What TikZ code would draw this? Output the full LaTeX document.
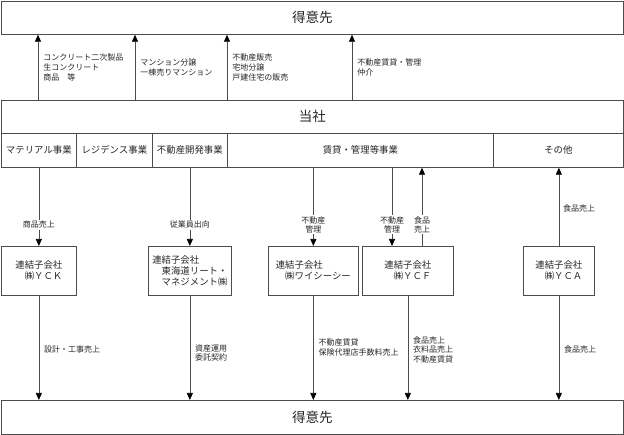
\documentclass[tikz,border=0pt]{standalone}
\usepackage{fontspec}
\newfontfamily\jp{Noto Sans CJK JP}
\usetikzlibrary{arrows.meta,calc}
\begin{document}
\begin{tikzpicture}[x=1pt,y=-1pt,
  box/.style={draw=black!70, line width=0.7pt, rectangle, inner sep=0pt, anchor=north west, font=\jp\fontsize{9.4}{11}\selectfont, align=left, text=black!85},
  bigbox/.style={box, font=\jp\fontsize{13.5}{15}\selectfont},
  arr/.style={draw=black!70, line width=0.7pt, -{Triangle[width=6pt,length=7pt,color=black]}},
  lbl/.style={font=\jp\fontsize{8}{9.8}\selectfont, text=black!85, inner sep=0pt, align=left, anchor=west, xshift=5pt},
  midlbl/.style={font=\jp\fontsize{8}{9.4}\selectfont, text=black!85, fill=white, inner sep=1pt, align=center}]
\useasboundingbox (0,0) rectangle (624,435);
% top and bottom customers
\node[bigbox, minimum width=622pt, minimum height=33pt] (top) at (1,1) {得意先};
\node[bigbox, minimum width=622pt, minimum height=34pt] (bottom) at (1,400) {得意先};
% company
\node[bigbox, minimum width=622pt, minimum height=33pt] (company) at (1,100) {当社};
% segments
\node[box, minimum width=75pt, minimum height=34pt] (seg1) at (1,133) {マテリアル事業};
\node[box, minimum width=76pt, minimum height=34pt] (seg2) at (76,133) {レジデンス事業};
\node[box, minimum width=75pt, minimum height=34pt] (seg3) at (152,133) {不動産開発事業};
\node[box, minimum width=266pt, minimum height=34pt] (seg4) at (227,133) {賃貸・管理等事業};
\node[box, minimum width=130pt, minimum height=34pt] (seg5) at (493,133) {その他};
% subsidiaries
\node[box, minimum width=75pt, minimum height=49pt] (yck) at (1,246) {連結子会社\\\hspace*{1em}㈱ＹＣＫ};
\node[box, minimum width=83pt, minimum height=49pt] (tokai) at (148,246) {連結子会社\\\hspace*{1em}東海道リート・\\\hspace*{1em}マネジメント㈱};
\node[box, minimum width=90pt, minimum height=49pt] (ycc) at (268,246) {連結子会社\\\hspace*{1em}㈱ワイシーシー};
\node[box, minimum width=91pt, minimum height=49pt] (ycf) at (362,246) {連結子会社\\\hspace*{1em}㈱ＹＣＦ};
\node[box, minimum width=71pt, minimum height=49pt] (yca) at (523,246) {連結子会社\\\hspace*{1em}㈱ＹＣＡ};
% helper x positions
\coordinate (t1) at (38,0);
\coordinate (t2) at (135,0);
\coordinate (t3) at (227,0);
\coordinate (t4) at (352,0);
\coordinate (m1) at (392,0);
\coordinate (m2) at (422,0);
% company -> top customers
\draw[arr] (company.north -| t1) -- node[lbl, pos=0.5] {コンクリート二次製品\\生コンクリート\\商品\hspace{1em}等} (top.south -| t1);
\draw[arr] (company.north -| t2) -- node[lbl, pos=0.5] {マンション分譲\\一棟売りマンション} (top.south -| t2);
\draw[arr] (company.north -| t3) -- node[lbl, pos=0.5] {不動産販売\\宅地分譲\\戸建住宅の販売} (top.south -| t3);
\draw[arr] (company.north -| t4) -- node[lbl, pos=0.5] {不動産賃貸・管理\\仲介} (top.south -| t4);
% segments -> subsidiaries
\draw[arr] (yck.north |- seg1.south) -- node[midlbl, pos=0.73] {商品売上} (yck.north);
\draw[arr] (tokai.north |- seg3.south) -- node[midlbl, pos=0.73] {従業員出向} (tokai.north);
\draw[arr] (ycc.north |- seg4.south) -- node[midlbl, pos=0.73] {不動産\\管理} (ycc.north);
\draw[arr] (m1 |- seg4.south) -- node[midlbl, pos=0.73] {不動産\\管理} (m1 |- ycf.north);
\draw[arr] (m2 |- ycf.north) -- node[midlbl, pos=0.27] {食品\\売上} (m2 |- seg4.south);
\draw[arr] (yca.north) -- node[lbl, pos=0.48, xshift=-1pt] {食品売上} (yca.north |- seg5.south);
% subsidiaries -> bottom customers
\draw[arr] (yck.south) -- node[lbl, pos=0.52] {設計・工事売上} (yck.south |- bottom.north);
\draw[arr] (tokai.south) -- node[lbl, pos=0.55] {資産運用\\委託契約} (tokai.south |- bottom.north);
\draw[arr] (ycc.south) -- node[lbl, pos=0.5] {不動産賃貸\\保険代理店手数料売上} (ycc.south |- bottom.north);
\draw[arr] (ycf.south) -- node[lbl, pos=0.52] {食品売上\\衣料品売上\\不動産賃貸} (ycf.south |- bottom.north);
\draw[arr] (yca.south) -- node[lbl, pos=0.52] {食品売上} (yca.south |- bottom.north);
\end{tikzpicture}
\end{document}
